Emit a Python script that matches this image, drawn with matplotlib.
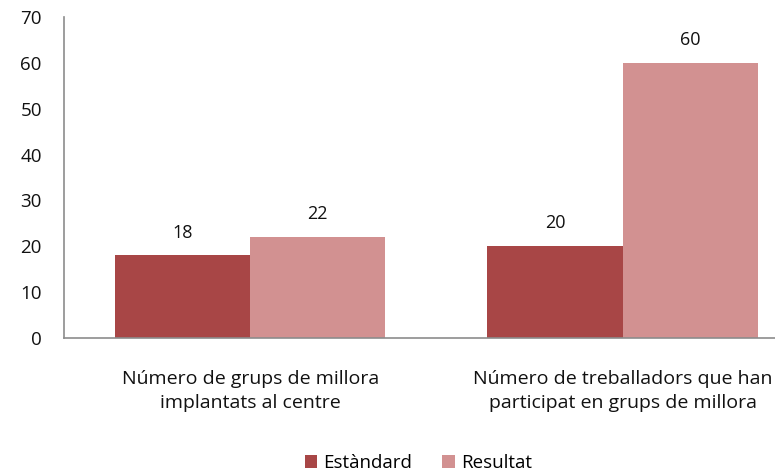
import matplotlib
matplotlib.use("Agg")
import matplotlib.pyplot as plt
import numpy as np

categories = ["Número de grups de millora\nimplantats al centre",
              "Número de treballadors que han\nparticipat en grups de millora"]
series_names = ["Estàndard", "Resultat"]
estandard = [18, 20]
resultat = [22, 60]
yticks = [0, 10, 20, 30, 40, 50, 60, 70]

colors = ["#A84646", "#D29191"]

plt.rcParams["font.family"] = ["Open Sans", "DejaVu Sans"]

fig = plt.figure(figsize=(7.75, 4.73), dpi=100)
ax = fig.add_axes([0.0826, 0.2854, 1.0 - 0.0826, 0.964 - 0.2854])

x = np.arange(len(categories))
w = 0.363
b1 = ax.bar(x - w / 2, estandard, w, color=colors[0], label=series_names[0])
b2 = ax.bar(x + w / 2, resultat, w, color=colors[1], label=series_names[1])

for bars, vals in ((b1, estandard), (b2, resultat)):
    for rect, v in zip(bars, vals):
        ax.annotate(str(v), (rect.get_x() + rect.get_width() / 2, v),
                    xytext=(0, 10), textcoords="offset points",
                    ha="center", va="bottom", fontsize=13, color="#111111")

ax.set_ylim(0, 70)
ax.set_yticks(yticks)
ax.set_xlim(-0.5, 1.409)
ax.set_xticks(x)
ax.set_xticklabels(categories, fontsize=14, color="#111111", linespacing=1.42)
ax.tick_params(axis="x", length=0, pad=23)
ax.tick_params(axis="y", length=0, pad=16, labelsize=13.5, labelcolor="#111111")

for s in ("top", "right"):
    ax.spines[s].set_visible(False)
for s in ("left", "bottom"):
    ax.spines[s].set_color("#8c8c8c")
    ax.spines[s].set_linewidth(1.2)

ax.legend(loc="center", bbox_to_anchor=(0.54, 0.021), bbox_transform=fig.transFigure,
          ncol=2, frameon=False, fontsize=13.5, handlelength=0.65, handleheight=0.65,
          handletextpad=0.35, columnspacing=1.6)

fig.savefig("out.png", dpi=100)
